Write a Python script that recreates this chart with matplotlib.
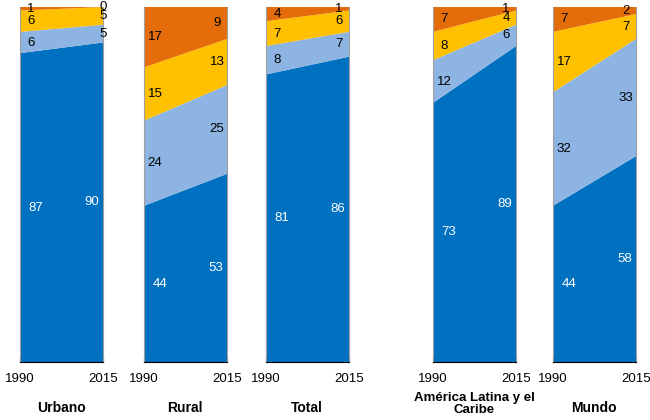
#stacked area panels of service coverage shares, 1990 vs 2015

import matplotlib
matplotlib.use('Agg')
import matplotlib.pyplot as plt

plt.rcParams['font.family'] = ['Liberation Sans', 'DejaVu Sans']

years = [1990, 2015]
panels = ['Urbano', 'Rural', 'Total', 'América Latina y el\nCaribe', 'Mundo']

#shares per panel, bottom to top layer, [1990, 2015]
layer1 = [[87, 90], [44, 53], [81, 86], [73, 89], [44, 58]]
layer2 = [[6, 5], [24, 25], [8, 7], [12, 6], [32, 33]]
layer3 = [[6, 5], [15, 13], [7, 6], [8, 4], [17, 7]]
layer4 = [[1, 0], [17, 9], [4, 1], [7, 1], [7, 2]]

colors = ['#0070C0', '#8DB4E2', '#FFC000', '#E46C0A']
text_colors = ['white', 'black', 'black', 'black']

#left edge of each panel in pixels
lefts = [20, 144, 266, 433, 553]
#offset from the right edge for the small 2015 labels (pixels)
right_off = [0, 10, 10, 10, 10]

fig = plt.figure(figsize=(6.5, 4.2), dpi=100)

for i, name in enumerate(panels):
    ax = fig.add_axes([lefts[i] / 650, 58 / 420, 83 / 650, 355 / 420])
    layers = [layer1[i], layer2[i], layer3[i], layer4[i]]
    ax.stackplot(years, *layers, colors=colors, linewidth=0)

    #data labels at the centre of each layer
    base = [0, 0]
    for k, lay in enumerate(layers):
        for j in range(2):
            mid = base[j] + lay[j] / 2
            if j == 0:
                x = 1990 + (16 if k == 0 else 11) / 83 * 25
            else:
                off = 11 if k == 0 else right_off[i]
                x = 2015 - off / 83 * 25
            ax.text(x, mid, str(lay[j]), ha='center', va='center',
                    fontsize=9.5, color=text_colors[k], clip_on=False)
        base = [base[0] + lay[0], base[1] + lay[1]]

    ax.set_xlim(1990, 2015)
    ax.set_ylim(0, 100)
    ax.set_xticks(years)
    ax.set_xticklabels(['1990', '2015'], fontsize=9.5)
    ax.set_yticks([])
    ax.tick_params(axis='x', direction='in', length=4, pad=8, color='black')
    ax.spines['top'].set_visible(False)
    ax.spines['left'].set_color('#A0A0A0')
    ax.spines['right'].set_color('#A0A0A0')
    ax.spines['bottom'].set_color('black')

    if '\n' in name:
        fig.text((lefts[i] + 41) / 650, 1 - 404 / 420, name, ha='center', va='center',
                 fontsize=9.5, fontweight='bold', linespacing=1.0)
    else:
        fig.text((lefts[i] + 41) / 650, 1 - 408 / 420, name, ha='center', va='center',
                 fontsize=10, fontweight='bold')

fig.savefig('out.png', dpi=100)
